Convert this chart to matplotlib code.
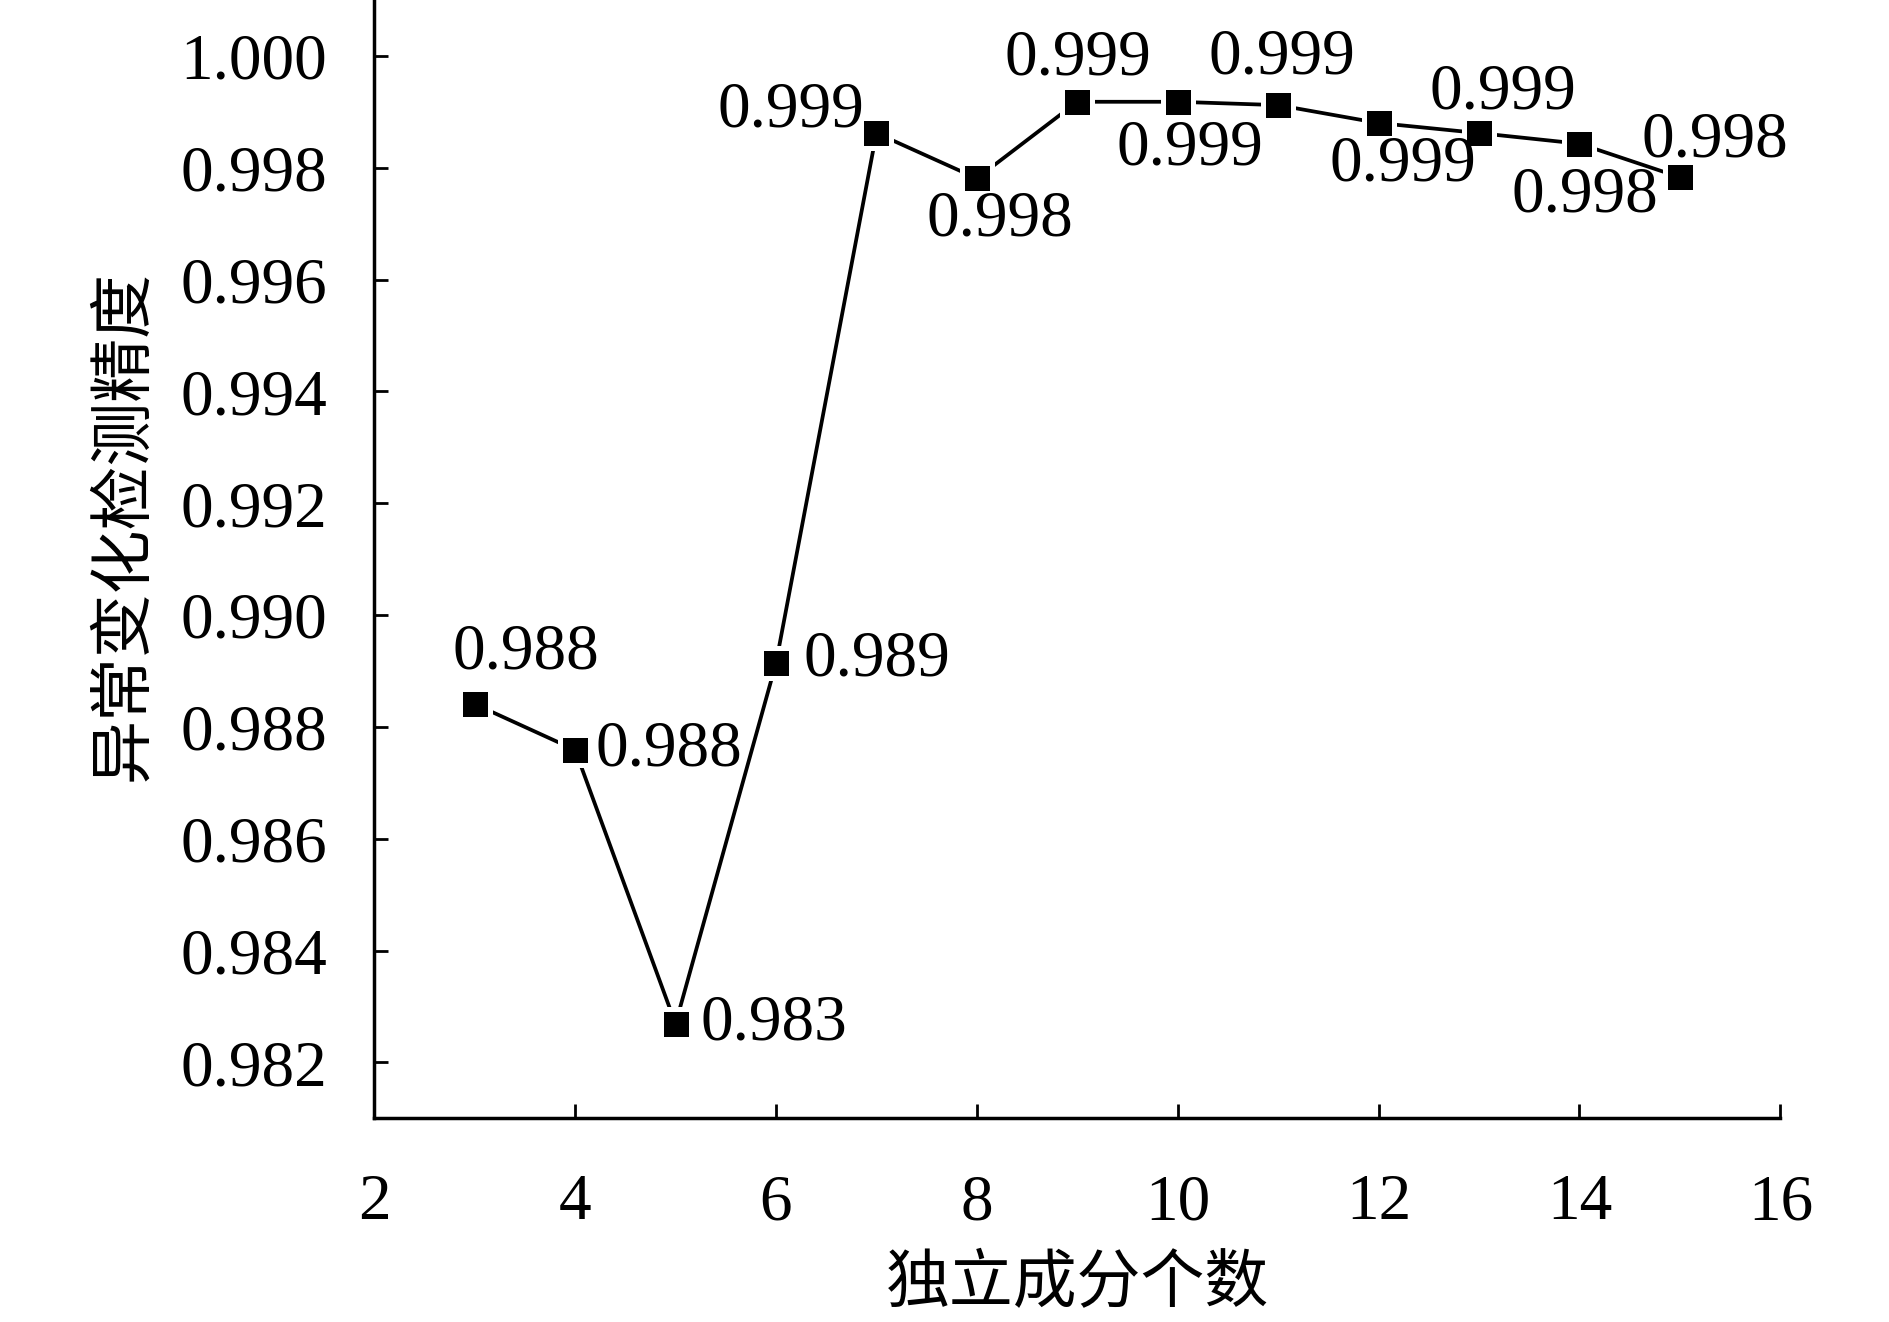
import matplotlib
matplotlib.use('Agg')
import matplotlib.pyplot as plt

# data
n_components = [3, 4, 5, 6, 7, 8, 9, 10, 11, 12, 13, 14, 15]
accuracy = [0.98841, 0.98759, 0.98269, 0.98914, 0.99862, 0.99781, 0.99918,
            0.99918, 0.99912, 0.99880, 0.99862, 0.99843, 0.99783]
point_labels = ['0.988', '0.988', '0.983', '0.989', '0.999', '0.998', '0.999',
                '0.999', '0.999', '0.999', '0.999', '0.998', '0.998']
# label placement per point: (dx, dy in pixels, horizontal alignment)
label_offsets = [(51, 51, 'center'), (20, 0, 'left'), (25, 0, 'left'),
                 (28, 3, 'left'), (-12, 22, 'right'), (23, -41, 'center'),
                 (1, 43, 'center'), (12, -47, 'center'), (4, 47, 'center'),
                 (24, -42, 'center'), (24, 40, 'center'), (5, -52, 'center'),
                 (35, 37, 'center')]
x_ticks = [2, 4, 6, 8, 10, 12, 14, 16]
y_ticks = [0.982, 0.984, 0.986, 0.988, 0.990, 0.992, 0.994, 0.996, 0.998, 1.000]

plt.rcParams['font.family'] = ['Liberation Serif', 'DejaVu Sans']
cjk = ['Noto Sans CJK SC', 'DejaVu Sans']

fig = plt.figure(figsize=(18.9, 13.22), dpi=100)
ax = fig.add_axes([0.198, 0.154, 0.744, 0.846])

ax.plot(n_components, accuracy, color='black', linewidth=2.7,
        marker='s', markersize=21.6, markerfacecolor='black',
        markeredgecolor='white', markeredgewidth=3.6)

for x, y, txt, (dx, dy, ha) in zip(n_components, accuracy, point_labels, label_offsets):
    ax.annotate(txt, (x, y), xytext=(dx, dy), textcoords='offset pixels',
                ha=ha, va='center', fontsize=47)

ax.set_xlim(2, 16)
ax.set_ylim(0.981, 1.001)
ax.set_xticks(x_ticks)
ax.set_yticks(y_ticks)
ax.set_yticklabels([f'{v:.3f}' for v in y_ticks])

for side in ['top', 'right']:
    ax.spines[side].set_visible(False)
for side in ['left', 'bottom']:
    ax.spines[side].set_linewidth(2.5)

ax.tick_params(axis='both', direction='in', length=10, width=2, labelsize=47)
ax.tick_params(axis='x', pad=40)
ax.tick_params(axis='y', pad=34)

ax.set_xlabel('独立成分个数', fontsize=46, family=cjk)
ax.set_ylabel('异常变化检测精度', fontsize=46, family=cjk)
ax.xaxis.set_label_coords(0.5, -0.118, transform=ax.transAxes)
ax.yaxis.set_label_coords(-0.155, 0.53, transform=ax.transAxes)

fig.savefig('out.png', dpi=100)
